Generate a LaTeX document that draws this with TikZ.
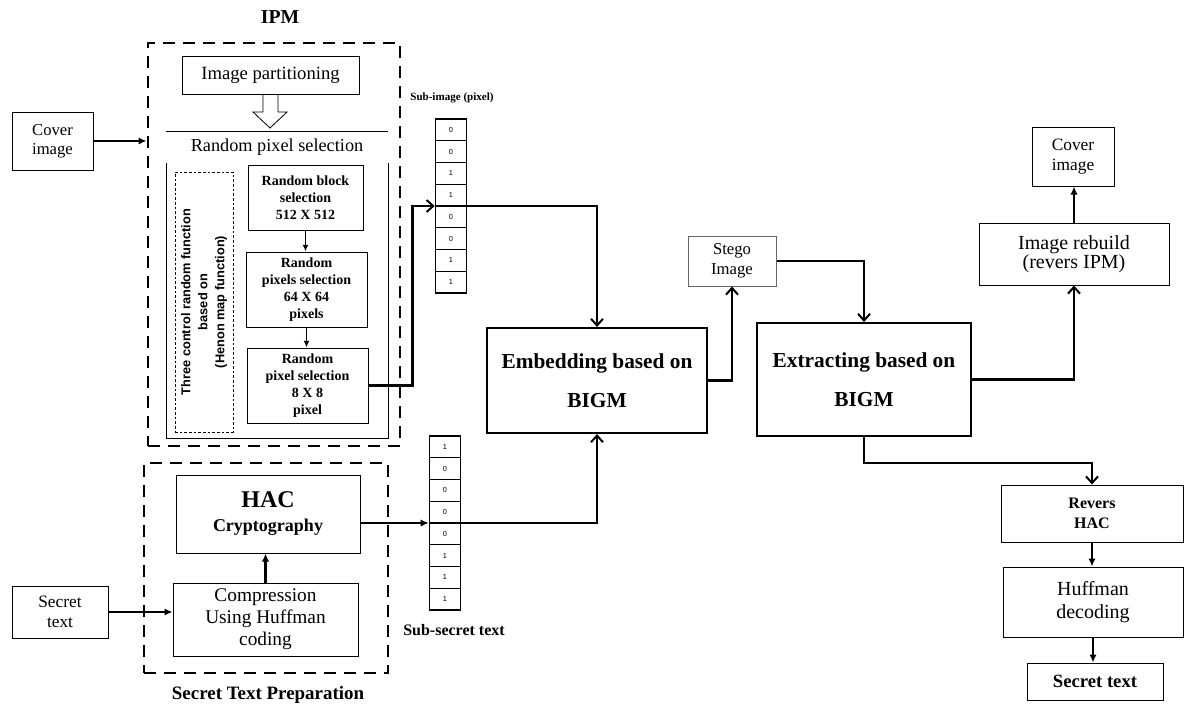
\documentclass[tikz,border=0pt]{standalone}
\usepackage{fontspec}
\setmainfont{Liberation Serif}
\newfontfamily\sansf{Liberation Sans}
\usetikzlibrary{arrows.meta,fit,calc}
\newcommand{\fs}[2]{\fontsize{#1}{#2}\selectfont}
\tikzset{
  bx/.style={draw, inner sep=0pt, line width=0.75pt},
  thickbx/.style={bx, line width=1.6pt},
  lbl/.style={align=center, inner sep=0pt},
  flow/.style={line width=1.7pt, -{Straight Barb[length=5pt,width=9pt,line width=1.5pt]}},
  flowf/.style={line width=1.6pt, -{Latex[length=6pt,width=5.5pt]}},
  smallarr/.style={line width=1.1pt, -{Latex[length=5pt,width=4.5pt]}},
  cell/.style={draw, line width=0.8pt, minimum width=23.25pt, minimum height=16.3pt, inner sep=0pt, font=\sansf\fs{5.5}{6}},
  grpdash/.style={draw, line width=2.2pt, dash pattern=on 9pt off 6pt, inner sep=0pt},
}
\begin{document}
\begin{tikzpicture}[x=0.75pt,y=-0.75pt]
\useasboundingbox (0,0) rectangle (1184,704);

% ---------- IPM group ----------
\node[font=\bfseries\fs{14.8}{16}] (ipmt) at (280,17) {IPM};
\node[grpdash, fit={(148,43)(400,446)}] (ipm) {};
\node[bx, fit={(182,56)(359,94)}] (ip) {};
\node[lbl, font=\fs{14}{16}] (ipl) at (ip.center) {Image partitioning};
\draw[line width=0.6pt, fill=white] (263,95) -- (263,112) -- (253,112) -- (270,128) -- (287,112) -- (278,112) -- (278,95);
\draw[line width=0.6pt] (166,131) -- (388,131);
\draw[line width=0.6pt] (166,163) -- (166,438) -- (388,438) -- (388,163);
\node[font=\fs{13.7}{15}] (rps) at (277,147) {Random pixel selection};
\node[draw, line width=0.5pt, dash pattern=on 2pt off 1.5pt, inner sep=0pt, fit={(175,172)(233,432)}] (ctrlbox) {};
\node[lbl, rotate=90, font=\sansf\bfseries\fs{9.6}{12.75}] (ctrl) at (ctrlbox.center) {Three control random function\\based on\\(Henon map function)};
\node[bx, fit={(248,165)(363,230)}] (b1) {};
\node[lbl, font=\bfseries\fs{10.5}{12.75}] (b1l) at (b1.center) {Random block\\selection\\512 X 512};
\node[bx, fit={(246,252)(367,327)}] (b2) {};
\node[lbl, font=\bfseries\fs{10.5}{12.75}] (b2l) at (b2.center) {Random\\pixels selection\\64 X 64\\pixels};
\node[bx, fit={(247,348)(368,423)}] (b3) {};
\node[lbl, font=\bfseries\fs{10.5}{12.75}] (b3l) at (b3.center) {Random\\pixel selection\\8 X 8\\pixel};
\draw[smallarr] (b1.south) -- (b1.south |- b2.north);
\draw[smallarr] (b2.south) -- (b2.south |- b3.north);

% ---------- Cover image input ----------
\node[bx, fit={(12,112)(93,170)}] (cover1) {};
\node[lbl, font=\fs{12.5}{14}] (cover1l) at (cover1.center) {Cover\\image};
\draw[flowf] (cover1.east) -- (cover1.east -| ipm.west);

% ---------- Sub-image column ----------
\node[font=\bfseries\fs{8.3}{9}] (subl) at (452,98) {Sub-image (pixel)};
\foreach \v [count=\i from 0] in {0,0,1,1,0,0,1,1}
  \node[cell] (a\i) at (451,{119+21.75*(\i+0.5)}) {\v};
\node[fit=(a0)(a7), inner sep=0pt] (col1) {};
\draw[flow] (b3.east) -- ++(44,0) |- (col1.west);

% ---------- Secret text preparation ----------
\node[grpdash, fit={(144,463)(388,673)}] (stp) {};
\node[font=\bfseries\fs{14.2}{16}] (stpt) at (268,695) {Secret Text Preparation};
\node[bx, fit={(176,475)(360,553)}] (hac) {};
\node[lbl, font=\bfseries\fs{13.5}{18}] (hacl) at (hac.center) {{\fs{18}{18}HAC}\\Cryptography};
\node[bx, fit={(173,583)(358,656)}] (comp) {};
\node[lbl, font=\fs{14.5}{16.5}] (compl) at (comp.center) {Compression\\Using Huffman\\coding};
\draw[flowf] (comp.north) -- (comp.north |- hac.south);
\node[bx, fit={(12,586)(108,638)}] (sec1) {};
\node[lbl, font=\fs{13}{15}] (sec1l) at (sec1.center) {Secret\\text};
\draw[flowf] (sec1.east) -- (sec1.east -| comp.west);

% ---------- Sub-secret column ----------
\foreach \v [count=\i from 0] in {1,0,0,0,0,1,1,1}
  \node[cell] (s\i) at (445,{436+21.75*(\i+0.5)}) {\v};
\node[fit=(s0)(s7), inner sep=0pt] (col2) {};
\node[font=\bfseries\fs{12}{13}] (ssl) at (454,630) {Sub-secret text};
\draw[flowf] (hac.east |- col2.west) -- (col2.west);

% ---------- Embedding / Extracting ----------
\node[thickbx, fit={(487,328)(707,433)}] (emb) {};
\node[lbl, font=\bfseries\fs{16}{29.5}] (embl) at (emb.center) {Embedding based on\\BIGM};
\draw[flow] (col1.east) -| (emb.north);
\draw[flow] (col2.east) -| (emb.south);
\node[bx, draw=black!60, fit={(688,236)(776,286)}] (stego) {};
\node[lbl, font=\fs{12.5}{15}] (stegol) at (stego.center) {Stego\\Image};
\draw[flow] (emb.east) -| (stego.south);
\node[thickbx, fit={(757,323)(971,436)}] (ext) {};
\node[lbl, font=\bfseries\fs{16}{29.5}] (extl) at (ext.center) {Extracting based on\\BIGM};
\draw[flow] (stego.east) -| (ext.north);

% ---------- Right side ----------
\node[bx, fit={(979,223)(1169,285)}] (rebuild) {};
\node[lbl, font=\fs{15}{14.5}] (rebuildl) at (rebuild.center) {Image rebuild\\(revers IPM)};
\node[bx, fit={(1032,127)(1114,186)}] (cover2) {};
\node[lbl, font=\fs{13}{14.5}] (cover2l) at (cover2.center) {Cover\\image};
\draw[flow] (ext.east) -| (rebuild.south);
\draw[flowf] (rebuild.north) -- (rebuild.north |- cover2.south);
\node[bx, fit={(1001,485)(1183,542)}] (rhac) {};
\node[lbl, font=\bfseries\fs{12}{15}] (rhacl) at (rhac.center) {Revers\\HAC};
\node[bx, fit={(1003,567)(1183,637)}] (huff) {};
\node[lbl, font=\fs{15}{17.5}] (huffl) at (huff.center) {Huffman\\decoding};
\node[bx, fit={(1027,663)(1163,700)}] (sec2) {};
\node[lbl, font=\bfseries\fs{14}{16}] (sec2l) at (sec2.center) {Secret text};
\draw[flow] (ext.south) -- ++(0,26) -| (rhac.north);
\draw[flowf] (rhac.south) -- (rhac.south |- huff.north);
\draw[flowf] (huff.south) -- (huff.south |- sec2.north);
\end{tikzpicture}
\end{document}
